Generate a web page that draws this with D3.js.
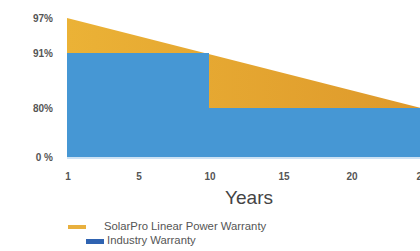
<!DOCTYPE html>
<html>
<head>
<meta charset="utf-8">
<script src="https://cdn.jsdelivr.net/npm/d3@7"></script>
<style>
  body { margin: 0; background: #fff; }
  svg { display: block; font-family: "Liberation Sans", Arial, sans-serif; }
  .tick-label { fill: #555; font-size: 10px; font-weight: bold; }
  .legend text { fill: #555; font-size: 11.3px; }
</style>
</head>
<body>
<svg id="chart" width="420" height="251"></svg>
<script>
// Years on the x axis and the percentages on the y axis
var xTicks = [1, 5, 10, 15, 20, 25];
var yTicks = [0, 80, 91, 97];
var yTickLabels = ["0 %", "80%", "91%", "97%"];

// SolarPro linear warranty: year -> guaranteed power (%)
var solarYears = [1, 25];
var solarValues = [97, 80];

// Industry step warranty
var industryYears = [1, 10, 25];
var industryValues = [91, 80, 80];

var legendLabels = ["SolarPro Linear Power Warranty", "Industry Warranty"];

var svg = d3.select("#chart");

// the axes are not linear: tick labels are spaced evenly, so use piecewise scales
var x = d3.scaleLinear().domain(xTicks).range([67, 138, 209, 283, 351, 421]);
var y = d3.scaleLinear().domain(yTicks).range([157, 108, 53, 18]);

var defs = svg.append("defs");
var grad = defs.append("linearGradient").attr("id", "gold")
    .attr("x1", "0").attr("x2", "1").attr("y1", "0").attr("y2", "0");
grad.append("stop").attr("offset", "0%").attr("stop-color", "#ebb236");
grad.append("stop").attr("offset", "100%").attr("stop-color", "#de992b");

var solar = solarYears.map(function(d, i) { return {year: d, value: solarValues[i]}; });
var industry = industryYears.map(function(d, i) { return {year: d, value: industryValues[i]}; });

var area = d3.area()
    .x(function(d) { return x(d.year); })
    .y0(y(0))
    .y1(function(d) { return y(d.value); });

svg.append("path")
    .datum(solar)
    .attr("fill", "url(#gold)")
    .attr("d", area);

svg.append("path")
    .datum(industry)
    .attr("fill", "#4697d4")
    .attr("d", area.curve(d3.curveStepAfter));

// faint baseline
svg.append("line")
    .attr("x1", x(1)).attr("x2", x(25))
    .attr("y1", y(0) + 1).attr("y2", y(0) + 1)
    .attr("stroke", "#bcd8f0").attr("stroke-width", 1.5);

// y tick labels
svg.append("g").selectAll("text")
    .data(yTicks)
    .enter().append("text")
    .attr("class", "tick-label")
    .attr("x", 53)
    .attr("y", function(d) { return y(d) + 4; })
    .attr("text-anchor", "end")
    .text(function(d, i) { return yTickLabels[i]; });

// x tick labels
svg.append("g").selectAll("text")
    .data(xTicks)
    .enter().append("text")
    .attr("class", "tick-label")
    .attr("x", function(d) { return x(d) + 1; })
    .attr("y", 180)
    .attr("text-anchor", "middle")
    .text(function(d) { return d; });

svg.append("text")
    .attr("x", 249)
    .attr("y", 204)
    .attr("text-anchor", "middle")
    .attr("fill", "#444")
    .style("font-size", "19px")
    .attr("textLength", 48)
    .attr("lengthAdjust", "spacingAndGlyphs")
    .text("Years");

// legend
var legend = svg.append("g").attr("class", "legend");
var swatches = [{x: 68, y: 225, h: 4, c: "#e8b03e", tx: 104}, {x: 86, y: 239, h: 5, c: "#2f63b1", tx: 107}];
legend.selectAll("rect")
    .data(swatches)
    .enter().append("rect")
    .attr("x", function(d) { return d.x; })
    .attr("y", function(d) { return d.y; })
    .attr("width", 18)
    .attr("height", function(d) { return d.h; })
    .attr("fill", function(d) { return d.c; });
legend.selectAll("text")
    .data(swatches)
    .enter().append("text")
    .attr("x", function(d) { return d.tx; })
    .attr("y", function(d) { return d.y + 5; })
    .text(function(d, i) { return legendLabels[i]; });
</script>
</body>
</html>
